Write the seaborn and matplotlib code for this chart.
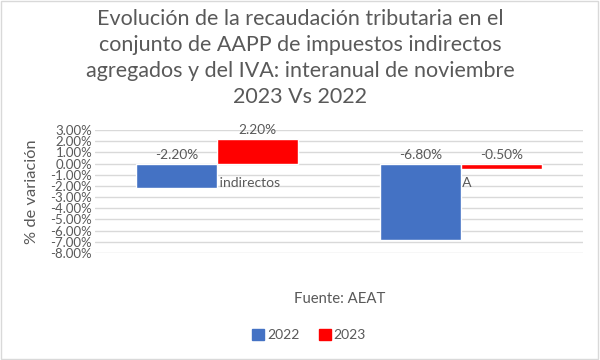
import matplotlib
matplotlib.use("Agg")
import matplotlib.pyplot as plt
import seaborn as sns
import pandas as pd
from matplotlib.ticker import FuncFormatter, MultipleLocator
from matplotlib.patches import Patch

categories = ["Impuestos indirectos", "IVA"]
years = ["2022", "2023"]
values_2022 = [-2.2, -6.8]
values_2023 = [2.2, -0.5]
title = "Evolución de la recaudación tributaria en el\nconjunto de AAPP de impuestos indirectos\nagregados y del IVA: interanual de noviembre\n2023 Vs 2022"

df = pd.DataFrame({
    "cat": categories * 2,
    "year": [years[0]] * 2 + [years[1]] * 2,
    "val": values_2022 + values_2023,
})

sns.set_theme(style="white")
plt.rcParams['font.family'] = ['Lato', 'DejaVu Sans']
gray = "#595959"
colors = ["#4472C4", "#FF0000"]

fig = plt.figure(figsize=(6, 3.6), dpi=100)
ax = fig.add_axes([95/600, 107/360, 488/600, 123/360])

sns.barplot(data=df, x="cat", y="val", hue="year", order=categories, hue_order=years,
            palette=colors, width=0.667, saturation=1, ax=ax,
            zorder=3, legend=False)

ax.set_ylim(-8, 3)
ax.set_xlim(-0.5, 1.5)
ax.yaxis.set_major_locator(MultipleLocator(1))
ax.yaxis.set_major_formatter(FuncFormatter(lambda v, p: f"{v:.2f}%"))
ax.grid(axis="y", color="#d9d9d9", linewidth=1, zorder=0)
for s in ax.spines.values():
    s.set_visible(False)
ax.tick_params(axis="y", labelsize=9.5, colors=gray, pad=2, length=0)
ax.set_xticks([])
ax.set_xlabel("")
ax.set_ylabel("% de variación", fontsize=11.8, color=gray, labelpad=8)

# category labels at zero line (behind bars)
for i, c in enumerate(categories):
    ax.text(i, -1.75, c, ha="center", va="center", fontsize=10, color=gray, zorder=1)

# data labels
for cont, vals in zip(ax.containers, [values_2022, values_2023]):
    for bar, v in zip(cont, vals):
        x = bar.get_x() + bar.get_width() / 2
        y = max(v, 0)
        ax.text(x, y + 0.25, f"{v:.2f}%", ha="center", va="bottom", fontsize=9.8, color=gray, zorder=4)

fig.text(0.5, 0.975, title, ha="center", va="top", fontsize=15.5, color=gray, linespacing=1.38)
fig.text(340/600, 1 - 299/360, "Fuente: AEAT", ha="center", va="center", fontsize=10.7, color=gray)

handles = [Patch(color=colors[0], label=years[0]), Patch(color=colors[1], label=years[1])]
fig.legend(handles=handles, loc="center", bbox_to_anchor=(309/600, 1 - 335/360), ncol=2,
           frameon=False, fontsize=10, handlelength=0.85, handleheight=0.85, columnspacing=1.4,
           handletextpad=0.2, labelcolor=gray)

fig.patches.append(plt.Rectangle((0.002, 0.003), 0.994, 0.994, transform=fig.transFigure,
                                 fill=False, edgecolor="#d9d9d9", linewidth=1))
fig.savefig("out.png", dpi=100)
